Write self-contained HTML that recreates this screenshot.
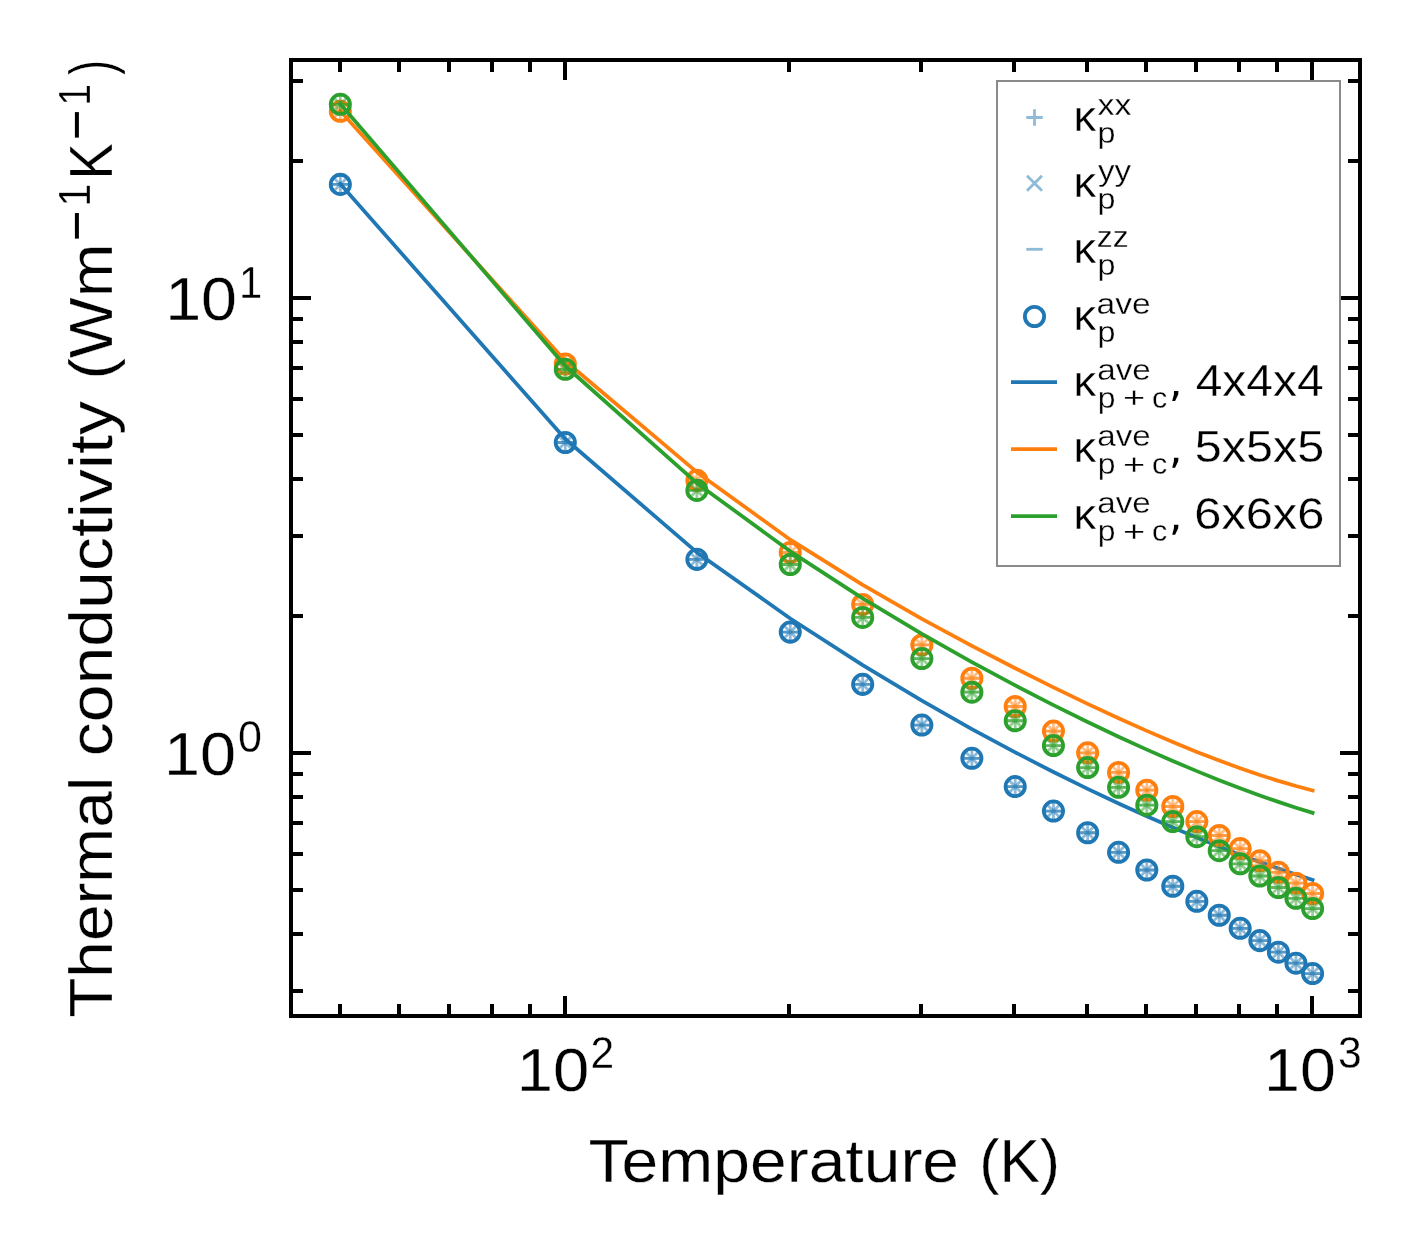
<!DOCTYPE html>
<html><head><meta charset="utf-8"><style>
html,body{margin:0;padding:0;background:#fff;overflow:hidden}
svg{display:block;will-change:transform}
text{font-family:"Liberation Sans", sans-serif;fill:#000;stroke:#fff;stroke-width:0.3px}
</style></head><body>
<svg width="1421" height="1254" viewBox="0 0 1421 1254">
<rect x="0" y="0" width="1421" height="1254" fill="#fff"/>
<g clip-path="url(#ax)">
<defs><clipPath id="ax"><rect x="291" y="60" width="1069" height="956"/></clipPath></defs>
<path d="M332.09 184.40H348.59M340.34 176.15V192.65M557.05 442.50H573.55M565.30 434.25V450.75M688.64 559.37H705.14M696.89 551.12V567.62M782.01 632.11H798.51M790.26 623.86V640.36M854.43 684.37H870.93M862.68 676.12V692.62M913.60 725.03H930.10M921.85 716.78V733.28M963.63 758.32H980.13M971.88 750.07V766.57M1006.97 786.54H1023.47M1015.22 778.29V794.79M1045.20 811.06H1061.70M1053.45 802.81V819.31M1079.39 832.77H1095.89M1087.64 824.52V841.02M1110.32 852.28H1126.82M1118.57 844.03V860.53M1138.56 870.00H1155.06M1146.81 861.75V878.25M1164.54 886.26H1181.04M1172.79 878.01V894.51M1188.59 901.28H1205.09M1196.84 893.03V909.53M1210.98 915.26H1227.48M1219.23 907.01V923.51M1231.93 928.33H1248.43M1240.18 920.08V936.58M1251.60 940.61H1268.10M1259.85 932.36V948.86M1270.16 952.19H1286.66M1278.41 943.94V960.44M1287.70 963.16H1304.20M1295.95 954.91V971.41M1304.35 973.58H1320.85M1312.60 965.33V981.83" stroke="#1f77b4" stroke-opacity="0.5" stroke-width="2.8" fill="none"/>
<path d="M332.84 176.90L347.84 191.90M332.84 191.90L347.84 176.90M557.80 435.00L572.80 450.00M557.80 450.00L572.80 435.00M689.39 551.87L704.39 566.87M689.39 566.87L704.39 551.87M782.76 624.61L797.76 639.61M782.76 639.61L797.76 624.61M855.18 676.87L870.18 691.87M855.18 691.87L870.18 676.87M914.35 717.53L929.35 732.53M914.35 732.53L929.35 717.53M964.38 750.82L979.38 765.82M964.38 765.82L979.38 750.82M1007.72 779.04L1022.72 794.04M1007.72 794.04L1022.72 779.04M1045.95 803.56L1060.95 818.56M1045.95 818.56L1060.95 803.56M1080.14 825.27L1095.14 840.27M1080.14 840.27L1095.14 825.27M1111.07 844.78L1126.07 859.78M1111.07 859.78L1126.07 844.78M1139.31 862.50L1154.31 877.50M1139.31 877.50L1154.31 862.50M1165.29 878.76L1180.29 893.76M1165.29 893.76L1180.29 878.76M1189.34 893.78L1204.34 908.78M1189.34 908.78L1204.34 893.78M1211.73 907.76L1226.73 922.76M1211.73 922.76L1226.73 907.76M1232.68 920.83L1247.68 935.83M1232.68 935.83L1247.68 920.83M1252.35 933.11L1267.35 948.11M1252.35 948.11L1267.35 933.11M1270.91 944.69L1285.91 959.69M1270.91 959.69L1285.91 944.69M1288.45 955.66L1303.45 970.66M1288.45 970.66L1303.45 955.66M1305.10 966.08L1320.10 981.08M1305.10 981.08L1320.10 966.08" stroke="#1f77b4" stroke-opacity="0.5" stroke-width="2.8" fill="none"/>
<path d="M332.09 184.40H348.59M557.05 442.50H573.55M688.64 559.37H705.14M782.01 632.11H798.51M854.43 684.37H870.93M913.60 725.03H930.10M963.63 758.32H980.13M1006.97 786.54H1023.47M1045.20 811.06H1061.70M1079.39 832.77H1095.89M1110.32 852.28H1126.82M1138.56 870.00H1155.06M1164.54 886.26H1181.04M1188.59 901.28H1205.09M1210.98 915.26H1227.48M1231.93 928.33H1248.43M1251.60 940.61H1268.10M1270.16 952.19H1286.66M1287.70 963.16H1304.20M1304.35 973.58H1320.85" stroke="#1f77b4" stroke-opacity="0.5" stroke-width="2.8" fill="none"/>
<circle cx="340.34" cy="184.40" r="9.64" fill="none" stroke="#1f77b4" stroke-width="3.78"/>
<circle cx="565.30" cy="442.50" r="9.64" fill="none" stroke="#1f77b4" stroke-width="3.78"/>
<circle cx="696.89" cy="559.37" r="9.64" fill="none" stroke="#1f77b4" stroke-width="3.78"/>
<circle cx="790.26" cy="632.11" r="9.64" fill="none" stroke="#1f77b4" stroke-width="3.78"/>
<circle cx="862.68" cy="684.37" r="9.64" fill="none" stroke="#1f77b4" stroke-width="3.78"/>
<circle cx="921.85" cy="725.03" r="9.64" fill="none" stroke="#1f77b4" stroke-width="3.78"/>
<circle cx="971.88" cy="758.32" r="9.64" fill="none" stroke="#1f77b4" stroke-width="3.78"/>
<circle cx="1015.22" cy="786.54" r="9.64" fill="none" stroke="#1f77b4" stroke-width="3.78"/>
<circle cx="1053.45" cy="811.06" r="9.64" fill="none" stroke="#1f77b4" stroke-width="3.78"/>
<circle cx="1087.64" cy="832.77" r="9.64" fill="none" stroke="#1f77b4" stroke-width="3.78"/>
<circle cx="1118.57" cy="852.28" r="9.64" fill="none" stroke="#1f77b4" stroke-width="3.78"/>
<circle cx="1146.81" cy="870.00" r="9.64" fill="none" stroke="#1f77b4" stroke-width="3.78"/>
<circle cx="1172.79" cy="886.26" r="9.64" fill="none" stroke="#1f77b4" stroke-width="3.78"/>
<circle cx="1196.84" cy="901.28" r="9.64" fill="none" stroke="#1f77b4" stroke-width="3.78"/>
<circle cx="1219.23" cy="915.26" r="9.64" fill="none" stroke="#1f77b4" stroke-width="3.78"/>
<circle cx="1240.18" cy="928.33" r="9.64" fill="none" stroke="#1f77b4" stroke-width="3.78"/>
<circle cx="1259.85" cy="940.61" r="9.64" fill="none" stroke="#1f77b4" stroke-width="3.78"/>
<circle cx="1278.41" cy="952.19" r="9.64" fill="none" stroke="#1f77b4" stroke-width="3.78"/>
<circle cx="1295.95" cy="963.16" r="9.64" fill="none" stroke="#1f77b4" stroke-width="3.78"/>
<circle cx="1312.60" cy="973.58" r="9.64" fill="none" stroke="#1f77b4" stroke-width="3.78"/>
<polyline points="340.34,184.00 565.30,439.00 696.89,552.45 790.26,618.49 862.68,665.15 921.85,700.67 971.88,729.01 1015.22,752.34 1053.45,771.99 1087.64,788.82 1118.57,803.43 1146.81,816.23 1172.79,827.55 1196.84,837.62 1219.23,846.62 1240.18,854.71 1259.85,862.00 1278.41,868.59 1295.95,874.56 1312.60,879.97" fill="none" stroke="#1f77b4" stroke-width="3.75" stroke-linejoin="round" stroke-linecap="square"/>
<path d="M332.09 111.30H348.59M340.34 103.05V119.55M557.05 364.00H573.55M565.30 355.75V372.25M688.64 480.29H705.14M696.89 472.04V488.54M782.01 552.48H798.51M790.26 544.23V560.73M854.43 604.44H870.93M862.68 596.19V612.69M913.60 644.97H930.10M921.85 636.72V653.22M963.63 678.24H980.13M971.88 669.99V686.49M1006.97 706.48H1023.47M1015.22 698.23V714.73M1045.20 731.07H1061.70M1053.45 722.82V739.32M1079.39 752.85H1095.89M1087.64 744.60V761.10M1110.32 772.42H1126.82M1118.57 764.17V780.67M1138.56 790.19H1155.06M1146.81 781.94V798.44M1164.54 806.49H1181.04M1172.79 798.24V814.74M1188.59 821.53H1205.09M1196.84 813.28V829.78M1210.98 835.50H1227.48M1219.23 827.25V843.75M1231.93 848.55H1248.43M1240.18 840.30V856.80M1251.60 860.78H1268.10M1259.85 852.53V869.03M1270.16 872.30H1286.66M1278.41 864.05V880.55M1287.70 883.17H1304.20M1295.95 874.92V891.42M1304.35 893.48H1320.85M1312.60 885.23V901.73" stroke="#ff7f0e" stroke-opacity="0.5" stroke-width="2.8" fill="none"/>
<path d="M332.84 103.80L347.84 118.80M332.84 118.80L347.84 103.80M557.80 356.50L572.80 371.50M557.80 371.50L572.80 356.50M689.39 472.79L704.39 487.79M689.39 487.79L704.39 472.79M782.76 544.98L797.76 559.98M782.76 559.98L797.76 544.98M855.18 596.94L870.18 611.94M855.18 611.94L870.18 596.94M914.35 637.47L929.35 652.47M914.35 652.47L929.35 637.47M964.38 670.74L979.38 685.74M964.38 685.74L979.38 670.74M1007.72 698.98L1022.72 713.98M1007.72 713.98L1022.72 698.98M1045.95 723.57L1060.95 738.57M1045.95 738.57L1060.95 723.57M1080.14 745.35L1095.14 760.35M1080.14 760.35L1095.14 745.35M1111.07 764.92L1126.07 779.92M1111.07 779.92L1126.07 764.92M1139.31 782.69L1154.31 797.69M1139.31 797.69L1154.31 782.69M1165.29 798.99L1180.29 813.99M1165.29 813.99L1180.29 798.99M1189.34 814.03L1204.34 829.03M1189.34 829.03L1204.34 814.03M1211.73 828.00L1226.73 843.00M1211.73 843.00L1226.73 828.00M1232.68 841.05L1247.68 856.05M1232.68 856.05L1247.68 841.05M1252.35 853.28L1267.35 868.28M1252.35 868.28L1267.35 853.28M1270.91 864.80L1285.91 879.80M1270.91 879.80L1285.91 864.80M1288.45 875.67L1303.45 890.67M1288.45 890.67L1303.45 875.67M1305.10 885.98L1320.10 900.98M1305.10 900.98L1320.10 885.98" stroke="#ff7f0e" stroke-opacity="0.5" stroke-width="2.8" fill="none"/>
<path d="M332.09 111.30H348.59M557.05 364.00H573.55M688.64 480.29H705.14M782.01 552.48H798.51M854.43 604.44H870.93M913.60 644.97H930.10M963.63 678.24H980.13M1006.97 706.48H1023.47M1045.20 731.07H1061.70M1079.39 752.85H1095.89M1110.32 772.42H1126.82M1138.56 790.19H1155.06M1164.54 806.49H1181.04M1188.59 821.53H1205.09M1210.98 835.50H1227.48M1231.93 848.55H1248.43M1251.60 860.78H1268.10M1270.16 872.30H1286.66M1287.70 883.17H1304.20M1304.35 893.48H1320.85" stroke="#ff7f0e" stroke-opacity="0.5" stroke-width="2.8" fill="none"/>
<circle cx="340.34" cy="111.30" r="9.64" fill="none" stroke="#ff7f0e" stroke-width="3.78"/>
<circle cx="565.30" cy="364.00" r="9.64" fill="none" stroke="#ff7f0e" stroke-width="3.78"/>
<circle cx="696.89" cy="480.29" r="9.64" fill="none" stroke="#ff7f0e" stroke-width="3.78"/>
<circle cx="790.26" cy="552.48" r="9.64" fill="none" stroke="#ff7f0e" stroke-width="3.78"/>
<circle cx="862.68" cy="604.44" r="9.64" fill="none" stroke="#ff7f0e" stroke-width="3.78"/>
<circle cx="921.85" cy="644.97" r="9.64" fill="none" stroke="#ff7f0e" stroke-width="3.78"/>
<circle cx="971.88" cy="678.24" r="9.64" fill="none" stroke="#ff7f0e" stroke-width="3.78"/>
<circle cx="1015.22" cy="706.48" r="9.64" fill="none" stroke="#ff7f0e" stroke-width="3.78"/>
<circle cx="1053.45" cy="731.07" r="9.64" fill="none" stroke="#ff7f0e" stroke-width="3.78"/>
<circle cx="1087.64" cy="752.85" r="9.64" fill="none" stroke="#ff7f0e" stroke-width="3.78"/>
<circle cx="1118.57" cy="772.42" r="9.64" fill="none" stroke="#ff7f0e" stroke-width="3.78"/>
<circle cx="1146.81" cy="790.19" r="9.64" fill="none" stroke="#ff7f0e" stroke-width="3.78"/>
<circle cx="1172.79" cy="806.49" r="9.64" fill="none" stroke="#ff7f0e" stroke-width="3.78"/>
<circle cx="1196.84" cy="821.53" r="9.64" fill="none" stroke="#ff7f0e" stroke-width="3.78"/>
<circle cx="1219.23" cy="835.50" r="9.64" fill="none" stroke="#ff7f0e" stroke-width="3.78"/>
<circle cx="1240.18" cy="848.55" r="9.64" fill="none" stroke="#ff7f0e" stroke-width="3.78"/>
<circle cx="1259.85" cy="860.78" r="9.64" fill="none" stroke="#ff7f0e" stroke-width="3.78"/>
<circle cx="1278.41" cy="872.30" r="9.64" fill="none" stroke="#ff7f0e" stroke-width="3.78"/>
<circle cx="1295.95" cy="883.17" r="9.64" fill="none" stroke="#ff7f0e" stroke-width="3.78"/>
<circle cx="1312.60" cy="893.48" r="9.64" fill="none" stroke="#ff7f0e" stroke-width="3.78"/>
<polyline points="340.34,111.00 565.30,361.00 696.89,472.19 790.26,539.71 862.68,584.92 921.85,618.78 971.88,645.82 1015.22,668.27 1053.45,687.36 1087.64,703.86 1118.57,718.25 1146.81,730.90 1172.79,742.04 1196.84,751.89 1219.23,760.58 1240.18,768.25 1259.85,775.00 1278.41,780.91 1295.95,786.06 1312.60,790.51" fill="none" stroke="#ff7f0e" stroke-width="3.75" stroke-linejoin="round" stroke-linecap="square"/>
<path d="M332.09 104.30H348.59M340.34 96.05V112.55M557.05 369.30H573.55M565.30 361.05V377.55M688.64 490.40H705.14M696.89 482.15V498.65M782.01 564.50H798.51M790.26 556.25V572.75M854.43 617.42H870.93M862.68 609.17V625.67M913.60 658.54H930.10M921.85 650.29V666.79M963.63 692.21H980.13M971.88 683.96V700.46M1006.97 720.76H1023.47M1015.22 712.51V729.01M1045.20 745.58H1061.70M1053.45 737.33V753.83M1079.39 767.56H1095.89M1087.64 759.31V775.81M1110.32 787.29H1126.82M1118.57 779.04V795.54M1138.56 805.19H1155.06M1146.81 796.94V813.44M1164.54 821.58H1181.04M1172.79 813.33V829.83M1188.59 836.70H1205.09M1196.84 828.45V844.95M1210.98 850.71H1227.48M1219.23 842.46V858.96M1231.93 863.78H1248.43M1240.18 855.53V872.03M1251.60 876.01H1268.10M1259.85 867.76V884.26M1270.16 887.49H1286.66M1278.41 879.24V895.74M1287.70 898.32H1304.20M1295.95 890.07V906.57M1304.35 908.56H1320.85M1312.60 900.31V916.81" stroke="#2ca02c" stroke-opacity="0.5" stroke-width="2.8" fill="none"/>
<path d="M332.84 96.80L347.84 111.80M332.84 111.80L347.84 96.80M557.80 361.80L572.80 376.80M557.80 376.80L572.80 361.80M689.39 482.90L704.39 497.90M689.39 497.90L704.39 482.90M782.76 557.00L797.76 572.00M782.76 572.00L797.76 557.00M855.18 609.92L870.18 624.92M855.18 624.92L870.18 609.92M914.35 651.04L929.35 666.04M914.35 666.04L929.35 651.04M964.38 684.71L979.38 699.71M964.38 699.71L979.38 684.71M1007.72 713.26L1022.72 728.26M1007.72 728.26L1022.72 713.26M1045.95 738.08L1060.95 753.08M1045.95 753.08L1060.95 738.08M1080.14 760.06L1095.14 775.06M1080.14 775.06L1095.14 760.06M1111.07 779.79L1126.07 794.79M1111.07 794.79L1126.07 779.79M1139.31 797.69L1154.31 812.69M1139.31 812.69L1154.31 797.69M1165.29 814.08L1180.29 829.08M1165.29 829.08L1180.29 814.08M1189.34 829.20L1204.34 844.20M1189.34 844.20L1204.34 829.20M1211.73 843.21L1226.73 858.21M1211.73 858.21L1226.73 843.21M1232.68 856.28L1247.68 871.28M1232.68 871.28L1247.68 856.28M1252.35 868.51L1267.35 883.51M1252.35 883.51L1267.35 868.51M1270.91 879.99L1285.91 894.99M1270.91 894.99L1285.91 879.99M1288.45 890.82L1303.45 905.82M1288.45 905.82L1303.45 890.82M1305.10 901.06L1320.10 916.06M1305.10 916.06L1320.10 901.06" stroke="#2ca02c" stroke-opacity="0.5" stroke-width="2.8" fill="none"/>
<path d="M332.09 104.30H348.59M557.05 369.30H573.55M688.64 490.40H705.14M782.01 564.50H798.51M854.43 617.42H870.93M913.60 658.54H930.10M963.63 692.21H980.13M1006.97 720.76H1023.47M1045.20 745.58H1061.70M1079.39 767.56H1095.89M1110.32 787.29H1126.82M1138.56 805.19H1155.06M1164.54 821.58H1181.04M1188.59 836.70H1205.09M1210.98 850.71H1227.48M1231.93 863.78H1248.43M1251.60 876.01H1268.10M1270.16 887.49H1286.66M1287.70 898.32H1304.20M1304.35 908.56H1320.85" stroke="#2ca02c" stroke-opacity="0.5" stroke-width="2.8" fill="none"/>
<circle cx="340.34" cy="104.30" r="9.64" fill="none" stroke="#2ca02c" stroke-width="3.78"/>
<circle cx="565.30" cy="369.30" r="9.64" fill="none" stroke="#2ca02c" stroke-width="3.78"/>
<circle cx="696.89" cy="490.40" r="9.64" fill="none" stroke="#2ca02c" stroke-width="3.78"/>
<circle cx="790.26" cy="564.50" r="9.64" fill="none" stroke="#2ca02c" stroke-width="3.78"/>
<circle cx="862.68" cy="617.42" r="9.64" fill="none" stroke="#2ca02c" stroke-width="3.78"/>
<circle cx="921.85" cy="658.54" r="9.64" fill="none" stroke="#2ca02c" stroke-width="3.78"/>
<circle cx="971.88" cy="692.21" r="9.64" fill="none" stroke="#2ca02c" stroke-width="3.78"/>
<circle cx="1015.22" cy="720.76" r="9.64" fill="none" stroke="#2ca02c" stroke-width="3.78"/>
<circle cx="1053.45" cy="745.58" r="9.64" fill="none" stroke="#2ca02c" stroke-width="3.78"/>
<circle cx="1087.64" cy="767.56" r="9.64" fill="none" stroke="#2ca02c" stroke-width="3.78"/>
<circle cx="1118.57" cy="787.29" r="9.64" fill="none" stroke="#2ca02c" stroke-width="3.78"/>
<circle cx="1146.81" cy="805.19" r="9.64" fill="none" stroke="#2ca02c" stroke-width="3.78"/>
<circle cx="1172.79" cy="821.58" r="9.64" fill="none" stroke="#2ca02c" stroke-width="3.78"/>
<circle cx="1196.84" cy="836.70" r="9.64" fill="none" stroke="#2ca02c" stroke-width="3.78"/>
<circle cx="1219.23" cy="850.71" r="9.64" fill="none" stroke="#2ca02c" stroke-width="3.78"/>
<circle cx="1240.18" cy="863.78" r="9.64" fill="none" stroke="#2ca02c" stroke-width="3.78"/>
<circle cx="1259.85" cy="876.01" r="9.64" fill="none" stroke="#2ca02c" stroke-width="3.78"/>
<circle cx="1278.41" cy="887.49" r="9.64" fill="none" stroke="#2ca02c" stroke-width="3.78"/>
<circle cx="1295.95" cy="898.32" r="9.64" fill="none" stroke="#2ca02c" stroke-width="3.78"/>
<circle cx="1312.60" cy="908.56" r="9.64" fill="none" stroke="#2ca02c" stroke-width="3.78"/>
<polyline points="340.34,104.00 565.30,366.00 696.89,483.14 790.26,551.35 862.68,598.37 921.85,633.85 971.88,662.10 1015.22,685.40 1053.45,705.08 1087.64,721.98 1118.57,736.69 1146.81,749.59 1172.79,760.99 1196.84,771.11 1219.23,780.14 1240.18,788.20 1259.85,795.42 1278.41,801.88 1295.95,807.67 1312.60,812.85" fill="none" stroke="#2ca02c" stroke-width="3.75" stroke-linejoin="round" stroke-linecap="square"/>
</g>
<path d="M565.00 1016V996M565.00 60V80M1312.00 1016V996M1312.00 60V80M340.00 1016V1004M340.00 60V72M399.00 1016V1004M399.00 60V72M449.00 1016V1004M449.00 60V72M492.00 1016V1004M492.00 60V72M530.00 1016V1004M530.00 60V72M789.00 1016V1004M789.00 60V72M921.00 1016V1004M921.00 60V72M1014.00 1016V1004M1014.00 60V72M1087.00 1016V1004M1087.00 60V72M1146.00 1016V1004M1146.00 60V72M1196.00 1016V1004M1196.00 60V72M1239.00 1016V1004M1239.00 60V72M1277.00 1016V1004M1277.00 60V72M291 753.00H311M1360 753.00H1340M291 298.00H311M1360 298.00H1340M291 991.00H303M1360 991.00H1348M291 934.00H303M1360 934.00H1348M291 890.00H303M1360 890.00H1348M291 854.00H303M1360 854.00H1348M291 823.00H303M1360 823.00H1348M291 797.00H303M1360 797.00H1348M291 774.00H303M1360 774.00H1348M291 616.00H303M1360 616.00H1348M291 536.00H303M1360 536.00H1348M291 479.00H303M1360 479.00H1348M291 435.00H303M1360 435.00H1348M291 399.00H303M1360 399.00H1348M291 368.00H303M1360 368.00H1348M291 342.00H303M1360 342.00H1348M291 319.00H303M1360 319.00H1348M291 161.00H303M1360 161.00H1348M291 81.00H303M1360 81.00H1348" stroke="#000" stroke-width="4" fill="none"/>
<rect x="291" y="60" width="1069" height="956" fill="none" stroke="#000" stroke-width="4" stroke-linejoin="miter"/>
<rect x="997" y="81" width="343" height="485" fill="#fff" fill-opacity="0.8" stroke="#8a8a8a" stroke-width="2"/>
<path d="M1026.25 117.5H1042.75M1034.5 109.25V125.75" stroke="#1f77b4" stroke-opacity="0.5" stroke-width="2.8"/>
<path d="M1027.0 175.8L1042.0 190.8M1027.0 190.8L1042.0 175.8" stroke="#1f77b4" stroke-opacity="0.5" stroke-width="2.8"/>
<path d="M1026.25 249.3H1042.75" stroke="#1f77b4" stroke-opacity="0.5" stroke-width="2.8"/>
<circle cx="1034.5" cy="316.5" r="9.64" fill="none" stroke="#1f77b4" stroke-width="3.78"/>
<path d="M1011 382H1057" stroke="#1f77b4" stroke-width="3.75"/>
<path d="M1011 449H1057" stroke="#ff7f0e" stroke-width="3.75"/>
<path d="M1011 516H1057" stroke="#2ca02c" stroke-width="3.75"/>
<text x="1073.46" y="130.90" font-size="42.5" textLength="22.70" lengthAdjust="spacingAndGlyphs">κ</text>
<text x="1097.59" y="114.80" font-size="29" textLength="33.88" lengthAdjust="spacingAndGlyphs">xx</text>
<text x="1097.50" y="142.90" font-size="29" textLength="17.96" lengthAdjust="spacingAndGlyphs">p</text>
<text x="1073.46" y="196.70" font-size="42.5" textLength="22.70" lengthAdjust="spacingAndGlyphs">κ</text>
<text x="1097.90" y="180.60" font-size="29" textLength="33.17" lengthAdjust="spacingAndGlyphs">yy</text>
<text x="1097.50" y="208.70" font-size="29" textLength="17.96" lengthAdjust="spacingAndGlyphs">p</text>
<text x="1073.46" y="262.70" font-size="42.5" textLength="22.70" lengthAdjust="spacingAndGlyphs">κ</text>
<text x="1096.69" y="246.60" font-size="29" textLength="31.90" lengthAdjust="spacingAndGlyphs">zz</text>
<text x="1097.50" y="274.70" font-size="29" textLength="17.96" lengthAdjust="spacingAndGlyphs">p</text>
<text x="1073.46" y="329.90" font-size="42.5" textLength="22.70" lengthAdjust="spacingAndGlyphs">κ</text>
<text x="1096.59" y="313.80" font-size="29" textLength="54.20" lengthAdjust="spacingAndGlyphs">ave</text>
<text x="1097.50" y="341.90" font-size="29" textLength="17.96" lengthAdjust="spacingAndGlyphs">p</text>
<text x="1073.46" y="395.60" font-size="42.5" textLength="22.70" lengthAdjust="spacingAndGlyphs">κ</text>
<text x="1097.20" y="379.50" font-size="29" textLength="53.57" lengthAdjust="spacingAndGlyphs">ave</text>
<text x="1097.73" y="407.60" font-size="29" textLength="17.71" lengthAdjust="spacingAndGlyphs">p</text>
<text x="1123.13" y="408.20" font-size="29" textLength="22.23" lengthAdjust="spacingAndGlyphs">+</text>
<text x="1151.92" y="407.60" font-size="29" textLength="15.28" lengthAdjust="spacingAndGlyphs">c</text>
<path d="M1174 391.00L1178.4 391.00L1178.2 394.40L1175.1 401.00L1172.2 401.00L1173.9 394.40Z" fill="#000"/>
<text x="1195.70" y="395.60" font-size="44" textLength="127.92" lengthAdjust="spacingAndGlyphs">4x4x4</text>
<text x="1073.46" y="462.40" font-size="42.5" textLength="22.70" lengthAdjust="spacingAndGlyphs">κ</text>
<text x="1097.20" y="446.30" font-size="29" textLength="53.57" lengthAdjust="spacingAndGlyphs">ave</text>
<text x="1097.73" y="474.40" font-size="29" textLength="17.71" lengthAdjust="spacingAndGlyphs">p</text>
<text x="1123.13" y="475.00" font-size="29" textLength="22.23" lengthAdjust="spacingAndGlyphs">+</text>
<text x="1151.92" y="474.40" font-size="29" textLength="15.28" lengthAdjust="spacingAndGlyphs">c</text>
<path d="M1174 457.80L1178.4 457.80L1178.2 461.20L1175.1 467.80L1172.2 467.80L1173.9 461.20Z" fill="#000"/>
<text x="1194.86" y="462.40" font-size="44" textLength="129.40" lengthAdjust="spacingAndGlyphs">5x5x5</text>
<text x="1073.46" y="529.40" font-size="42.5" textLength="22.70" lengthAdjust="spacingAndGlyphs">κ</text>
<text x="1097.20" y="513.30" font-size="29" textLength="53.57" lengthAdjust="spacingAndGlyphs">ave</text>
<text x="1097.73" y="541.40" font-size="29" textLength="17.71" lengthAdjust="spacingAndGlyphs">p</text>
<text x="1123.13" y="542.00" font-size="29" textLength="22.23" lengthAdjust="spacingAndGlyphs">+</text>
<text x="1151.92" y="541.40" font-size="29" textLength="15.28" lengthAdjust="spacingAndGlyphs">c</text>
<path d="M1174 524.80L1178.4 524.80L1178.2 528.20L1175.1 534.80L1172.2 534.80L1173.9 528.20Z" fill="#000"/>
<text x="1194.31" y="529.40" font-size="44" textLength="130.05" lengthAdjust="spacingAndGlyphs">6x6x6</text>
<text x="165.19" y="319.90" font-size="62" textLength="71.85" lengthAdjust="spacingAndGlyphs">10</text>
<text x="238.93" y="298.00" font-size="44" textLength="23.23" lengthAdjust="spacingAndGlyphs">1</text>
<text x="164.08" y="775.20" font-size="62" textLength="72.07" lengthAdjust="spacingAndGlyphs">10</text>
<text x="238.02" y="752.00" font-size="44" textLength="23.97" lengthAdjust="spacingAndGlyphs">0</text>
<text x="516.65" y="1091.10" font-size="62" textLength="72.52" lengthAdjust="spacingAndGlyphs">10</text>
<text x="590.57" y="1067.80" font-size="44" textLength="23.66" lengthAdjust="spacingAndGlyphs">2</text>
<text x="1264.10" y="1090.90" font-size="62" textLength="71.74" lengthAdjust="spacingAndGlyphs">10</text>
<text x="1338.08" y="1068.20" font-size="44" textLength="23.70" lengthAdjust="spacingAndGlyphs">3</text>
<text x="588.55" y="1181.80" font-size="61" textLength="370.54" lengthAdjust="spacingAndGlyphs">Temperature</text>
<text x="979.24" y="1181.80" font-size="61" textLength="80.82" lengthAdjust="spacingAndGlyphs">(K)</text>
<g transform="translate(112 1016.8) rotate(-90)"><text x="-1.05" y="0.00" font-size="61" textLength="241.19" lengthAdjust="spacingAndGlyphs">Thermal</text><text x="260.44" y="0.00" font-size="61" textLength="355.27" lengthAdjust="spacingAndGlyphs">conductivity</text><text x="637.21" y="0.00" font-size="61" textLength="135.94" lengthAdjust="spacingAndGlyphs">(Wm</text><rect x="778.2" y="-37.1" width="25.6" height="4.0" fill="#000"/><text x="810.14" y="-22.00" font-size="44" textLength="23.10" lengthAdjust="spacingAndGlyphs">1</text><text x="837.34" y="0.00" font-size="61" textLength="36.32" lengthAdjust="spacingAndGlyphs">K</text><rect x="879.2" y="-37.1" width="25.5" height="4.0" fill="#000"/><text x="911.04" y="-22.00" font-size="44" textLength="21.68" lengthAdjust="spacingAndGlyphs">1</text><text x="942.03" y="0.00" font-size="61" textLength="14.83" lengthAdjust="spacingAndGlyphs">)</text></g>
</svg></body></html>
